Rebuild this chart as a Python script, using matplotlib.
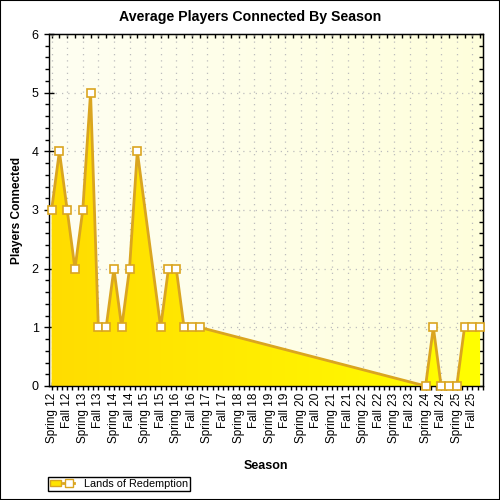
import matplotlib
matplotlib.use("Agg")
import matplotlib.pyplot as plt
import numpy as np
from matplotlib.colors import LinearSegmentedColormap
from matplotlib.lines import Line2D
from matplotlib.patches import Patch, Rectangle
from matplotlib.legend_handler import HandlerTuple
from matplotlib.ticker import MultipleLocator, FixedLocator

plt.rcParams['font.family'] = ['Liberation Sans', 'DejaVu Sans']

# Data: months since Spring 12, average players connected
months = [0, 3, 6, 9, 12, 15, 18, 21, 24, 27, 30, 33,
          42, 45, 48, 51, 54, 57,
          144, 147, 150, 153, 156, 159, 162, 165]
players = [3, 4, 3, 2, 3, 5, 1, 1, 2, 1, 2, 4,
           1, 2, 2, 1, 1, 1,
           0, 1, 0, 0, 0, 1, 1, 1]
season_labels = []
for yr in range(12, 26):
    season_labels += [f"Spring {yr}", f"Fall {yr}"]
series_name = "Lands of Redemption"

fig = plt.figure(figsize=(5, 5), dpi=100)
fig.patch.set_facecolor("white")
ax = fig.add_axes([0.098, 0.228, 0.8674, 0.704])

xmin, xmax = -1.0, 166.0
ymin, ymax = 0, 6
ax.set_xlim(xmin, xmax)
ax.set_ylim(ymin, ymax)

# background gradient
bg_cmap = LinearSegmentedColormap.from_list("bg", ["#FEFEF2", "#FFFFDC"])
grad = np.linspace(0, 1, 256).reshape(1, -1)
ax.imshow(grad, cmap=bg_cmap, extent=[xmin, xmax, ymin, ymax], aspect='auto', zorder=0)

# grid
for m in range(0, 166, 6):
    ax.axvline(m, color="#BDBDBD", lw=0.9, ls=(0, (1, 4)), zorder=1)
for yv in range(1, 6):
    ax.axhline(yv, color="#BDBDBD", lw=0.9, ls=(0, (1, 4)), zorder=1)

# gradient fill under the line
fill_cmap = LinearSegmentedColormap.from_list("fill", ["#FFDC00", "#FFFF00"])
poly = ax.fill_between(months, players, 0, facecolor="none", edgecolor="none", zorder=2)
img = ax.imshow(grad, cmap=fill_cmap, extent=[xmin, xmax, ymin, ymax], aspect='auto', zorder=2)
img.set_clip_path(poly.get_paths()[0], transform=ax.transData)

ax.plot(months, players, color="#DAA520", lw=2, marker="s", ms=5.5,
        mfc="white", mec="#DAA520", mew=1.2, zorder=4, clip_on=False)

# ticks
ax.xaxis.set_major_locator(FixedLocator(list(range(0, 166, 6))))
ax.set_xticklabels(season_labels, rotation=90, fontsize=8.5)
ax.xaxis.set_minor_locator(MultipleLocator(2))
ax.yaxis.set_major_locator(MultipleLocator(1))
ax.yaxis.set_minor_locator(MultipleLocator(0.2))
ax.tick_params(axis='x', which='major', direction='inout', length=6, width=1, pad=2)
ax.tick_params(axis='x', which='minor', direction='out', length=3, width=1)
ax.tick_params(axis='y', which='major', direction='inout', length=7, width=1, labelsize=9, pad=4)
ax.tick_params(axis='y', which='minor', direction='out', length=3, width=1)

sec_x = ax.secondary_xaxis('top')
sec_x.xaxis.set_major_locator(MultipleLocator(3))
sec_x.xaxis.set_minor_locator(FixedLocator([]))
sec_x.tick_params(direction='in', length=3, width=1, labeltop=False)
sec_y = ax.secondary_yaxis('right')
sec_y.yaxis.set_major_locator(MultipleLocator(0.2))
sec_y.yaxis.set_minor_locator(FixedLocator([]))
sec_y.tick_params(direction='in', length=3, width=1, labelright=False)

for sp in ax.spines.values():
    sp.set_color("black")
    sp.set_linewidth(1)

fig.text(0.5, 1 - 17 / 500, "Average Players Connected By Season", fontsize=10.2,
         fontweight='bold', ha='center', va='center')
ax.set_xlabel("Season", fontsize=9, fontweight='bold', labelpad=12)
ax.set_ylabel("Players Connected", fontsize=8.6, fontweight='bold', labelpad=6)

# legend
h_patch = Patch(facecolor="#FFE400", edgecolor="#DAA520", lw=1)
h_line = Line2D([], [], color="#DAA520", lw=2, marker="s", ms=5.5, mfc="white", mec="#DAA520")
leg = fig.legend([(h_patch, h_line)], [series_name], handler_map={tuple: HandlerTuple(ndivide=None)},
                 loc='lower left', bbox_to_anchor=(0.096, 0.018), bbox_transform=fig.transFigure,
                 fancybox=False, edgecolor="black", framealpha=1, fontsize=7.8,
                 borderpad=0.2, handlelength=2.2, handleheight=0.6, handletextpad=0.9, borderaxespad=0)
leg.get_frame().set_linewidth(1)

# figure border
fig.patches.append(Rectangle((0, 0), 1, 1, transform=fig.transFigure, fill=False,
                             edgecolor="black", lw=1.5))

fig.savefig("out.png", dpi=100)
